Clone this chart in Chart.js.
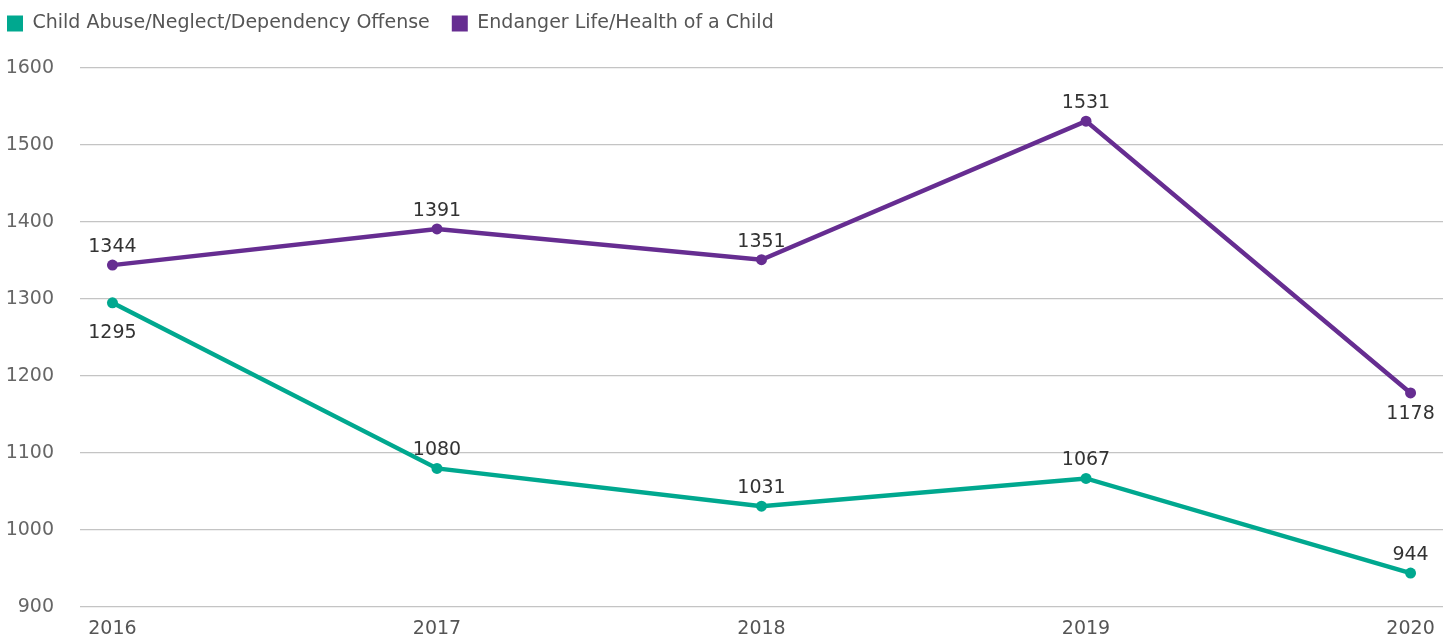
<!DOCTYPE html>
<html>
<head>
<meta charset="utf-8">
<script src="https://cdn.jsdelivr.net/npm/chart.js@4.4.1/dist/chart.umd.min.js"></script>
<style>
  html, body { margin: 0; padding: 0; background: #fff; }
  #wrap { width: 1455px; height: 637px; position: relative; }
</style>
</head>
<body>
<div id="wrap"><canvas id="chart"></canvas></div>
<script>
// Yearly counts of child-related offenses
const years = [2016, 2017, 2018, 2019, 2020];
const abuseNeglect = [1295, 1080, 1031, 1067, 944];
const endangerLife = [1344, 1391, 1351, 1531, 1178];
const seriesNames = ['Child Abuse/Neglect/Dependency Offense', 'Endanger Life/Health of a Child'];
const yTicks = [900, 1000, 1100, 1200, 1300, 1400, 1500, 1600];

// where each value label sits relative to its point
const labelSide = [
  ['below', 'above', 'above', 'above', 'above'],
  ['above', 'above', 'above', 'above', 'below']
];

const TEAL = '#00a88f';
const PURPLE = '#662d91';
const FONT = "'DejaVu Sans', sans-serif";

const toPoints = (vals) => vals.map((v, i) => ({ x: years[i], y: v }));

// draws the number next to every point
const valueLabels = {
  id: 'valueLabels',
  afterDatasetsDraw(chart) {
    const ctx = chart.ctx;
    ctx.save();
    ctx.font = '19px ' + FONT;
    ctx.fillStyle = '#333';
    ctx.textAlign = 'center';
    ctx.textBaseline = 'middle';
    chart.data.datasets.forEach((ds, di) => {
      const meta = chart.getDatasetMeta(di);
      meta.data.forEach((pt, i) => {
        const side = labelSide[di][i];
        const dy = side === 'above' ? -18 : (di === 0 ? 30 : 21);
        ctx.fillText(String(ds.data[i].y), pt.x, pt.y + dy);
      });
    });
    ctx.restore();
  }
};

// extra room between the legend and the plot
const legendGap = {
  id: 'legendGap',
  beforeLayout(chart) {
    const lg = chart.legend;
    if (lg && !lg._gapPatched) {
      const fit = lg.fit;
      lg.fit = function () { fit.call(this); this.height += 25; };
      lg._gapPatched = true;
    }
  }
};

new Chart(document.getElementById('chart'), {
  type: 'line',
  data: {
    datasets: [
      {
        label: seriesNames[0],
        data: toPoints(abuseNeglect),
        borderColor: TEAL,
        backgroundColor: TEAL,
        borderWidth: 4.5,
        pointRadius: 5.5,
        pointHoverRadius: 5.5,
        pointBorderWidth: 0,
        tension: 0
      },
      {
        label: seriesNames[1],
        data: toPoints(endangerLife),
        borderColor: PURPLE,
        backgroundColor: PURPLE,
        borderWidth: 4.5,
        pointRadius: 5.5,
        pointHoverRadius: 5.5,
        pointBorderWidth: 0,
        tension: 0
      }
    ]
  },
  options: {
    responsive: true,
    maintainAspectRatio: false,
    animation: false,
    layout: { padding: { left: -15, right: 12, top: -8, bottom: -7 } },
    plugins: {
      tooltip: { enabled: false },
      legend: {
        display: true,
        position: 'top',
        align: 'start',
        labels: {
          boxWidth: 16,
          boxHeight: 16,
          padding: 22,
          color: '#555',
          font: { family: FONT, size: 19 },
          generateLabels(chart) {
            return chart.data.datasets.map((ds, i) => ({
              text: ds.label,
              fillStyle: ds.backgroundColor,
              strokeStyle: ds.backgroundColor,
              lineWidth: 0,
              fontColor: '#555',
              hidden: false,
              datasetIndex: i
            }));
          }
        }
      }
    },
    scales: {
      x: {
        type: 'linear',
        min: years[0] - 0.1,
        max: years[years.length - 1] + 0.1,
        afterBuildTicks(scale) { scale.ticks = years.map(v => ({ value: v })); },
        grid: { display: false },
        border: { display: false },
        ticks: {
          color: '#555',
          font: { family: FONT, size: 19, lineHeight: 1 },
          padding: 5,
          autoSkip: false,
          maxRotation: 0,
          callback: (v) => String(v)
        }
      },
      y: {
        min: yTicks[0],
        max: yTicks[yTicks.length - 1],
        afterBuildTicks(scale) { scale.ticks = yTicks.map(v => ({ value: v })); },
        afterFit(scale) { scale.width = 95; scale.paddingBottom = 0; },
        grid: { color: '#c4c4c4', lineWidth: 1.2, drawTicks: false },
        border: { display: false },
        ticks: {
          color: '#666',
          font: { family: FONT, size: 19 },
          padding: 26,
          callback: (v) => String(v)
        }
      }
    }
  },
  plugins: [valueLabels, legendGap]
});
</script>
</body>
</html>
